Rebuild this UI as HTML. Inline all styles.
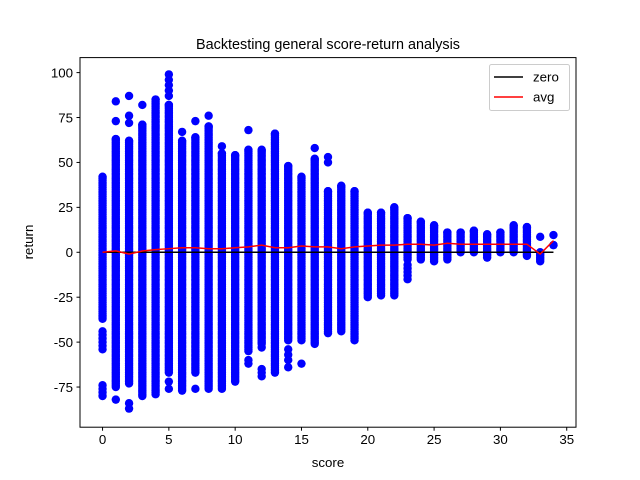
<!DOCTYPE html>
<html><head><meta charset="utf-8"><style>body{margin:0;background:#fff}svg{display:block;font-family:"Liberation Sans","DejaVu Sans",sans-serif}</style></head>
<body>
<svg id="chart" width="640" height="480" viewBox="0 0 640 480" xmlns="http://www.w3.org/2000/svg">
<rect width="640" height="480" fill="#fff"/>
<text x="328" y="49" font-size="14.4" text-anchor="middle">Backtesting general score-return analysis</text>
<g id="points"></g>
<g id="lines"></g>
<g id="axes"></g>
<rect x="80" y="57.6" width="496" height="369.6" fill="none" stroke="#000" stroke-width="1"/>
<text x="328" y="467" font-size="13.3" text-anchor="middle">score</text>
<text transform="translate(33,242) rotate(-90)" font-size="13.3" text-anchor="middle">return</text>
<g>
<rect x="489.5" y="64.5" width="80" height="46" rx="2" fill="#fff" fill-opacity="0.8" stroke="#ccc"/>
<line x1="494" y1="77" x2="523" y2="77" stroke="#000" stroke-width="1.5"/>
<text x="533" y="81.5" font-size="13.3">zero</text>
<line x1="494" y1="97" x2="523" y2="97" stroke="#f00" stroke-width="1.5"/>
<text x="533" y="101.5" font-size="13.3">avg</text>
</g>
</svg>
<script>
const scores = [0,1,2,3,4,5,6,7,8,9,10,11,12,13,14,15,16,17,18,19,20,21,22,23,24,25,26,27,28,29,30,31,32,33,34];
const denseTop = [42,63,62,71,85,82,62,64,70,55,54,57,57,66,48,42,52,34,37,34,22,22,25,19,17,15,11,11,12,10,11,15,14,0,4];
const denseBottom = [-37,-75,-73,-80,-79,-67,-77,-67,-76,-76,-72,-55,-51,-67,-49,-49,-51,-45,-44,-49,-25,-24,-24,-4,-4,-5,-4,0,0,-3,0,0,-2,-5,4];
const outliers = [[-44,-46,-48,-50,-52,-54,-74,-76,-78,-80],[84,73,-82],[87,76,72,-84,-87],[82],[],[99,96,93,90,87,-72,-76],[67],[73,-76],[76],[59],[],[68,-60,-62],[-53,-65,-67,-69],[],[-54,-57,-60,-64],[-62],[58],[53,50],[],[],[],[],[],[-7,-9,-11,-13,-15],[],[],[],[],[],[],[],[],[],[8.6],[9.6]];
const avgValues = [0,0.8,-1,0.7,1.5,2,2.5,2.5,2,2,2.5,3,4,2.5,2.5,3.5,3,3,2,3,3.5,4,4,4.5,4.5,4,5,4.5,4.5,4.5,4.5,4.5,4.5,-1,6.5];
const xTicks = [0,5,10,15,20,25,30,35];
const yTicks = [-75,-50,-25,0,25,50,75,100];

const NS='http://www.w3.org/2000/svg';
const L=80,R=576,T=57.6,B=427.2;
const xMin=-1.7,xMax=35.7,yMin=-97.35,yMax=108.35;
function xs(v){return L+(v-xMin)/(xMax-xMin)*(R-L);}
function ys(v){return B-(v-yMin)/(yMax-yMin)*(B-T);}
function mk(tag,attrs,parent){const e=document.createElementNS(NS,tag);for(const k in attrs)e.setAttribute(k,attrs[k]);parent.appendChild(e);return e;}

const pg=document.getElementById('points');
scores.forEach((s,i)=>{
  const vals=[];
  for(let v=denseBottom[i];v<=denseTop[i];v+=1)vals.push(v);
  vals.push(denseTop[i]);
  outliers[i].forEach(v=>vals.push(v));
  vals.forEach(v=>{
    const c=mk('circle',{cx:xs(s),cy:ys(v),r:4.2,fill:'#0000ff'},pg);
    
    
  });
});

const lg=document.getElementById('lines');
const z=mk('line',{x1:xs(scores[0]),y1:ys(0),x2:xs(scores[scores.length-1]),y2:ys(0),stroke:'#000','stroke-width':1.5},lg);


const a=mk('polyline',{points:scores.map((s,i)=>xs(s)+','+ys(avgValues[i])).join(' '),fill:'none',stroke:'#f00','stroke-width':1.5},lg);



const ag=document.getElementById('axes');
xTicks.forEach(t=>{
  const x=xs(t);
  const tk=mk('line',{x1:x,y1:B,x2:x,y2:B+3.5,stroke:'#000'},ag);
  
  
  const tx=mk('text',{x:x,y:B+17,'font-size':13.3,'text-anchor':'middle'},ag);
  tx.textContent=t;
  
  
});
yTicks.forEach(t=>{
  const y=ys(t);
  const tk=mk('line',{x1:L-3.5,y1:y,x2:L,y2:y,stroke:'#000'},ag);
  
  
  const tx=mk('text',{x:L-7,y:y+4.8,'font-size':13.3,'text-anchor':'end'},ag);
  tx.textContent=t;
  
  
});
</script>
</body></html>
